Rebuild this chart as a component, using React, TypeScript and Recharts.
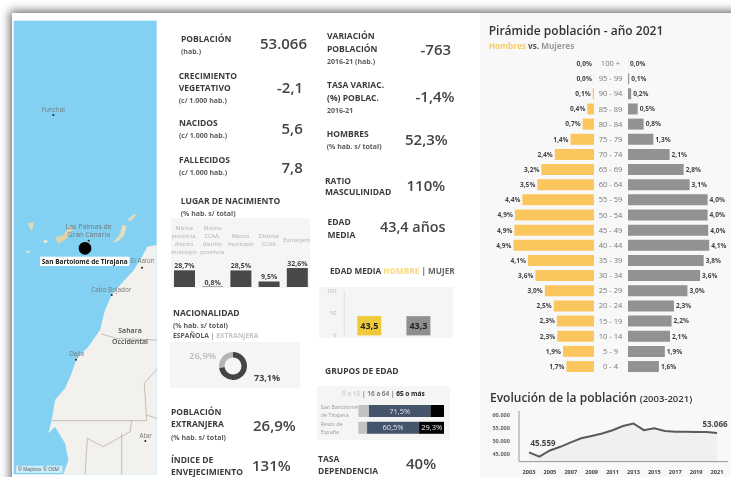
import { Area, AreaChart, Bar, BarChart, Cell, LabelList, Pie, PieChart, XAxis, YAxis } from "recharts"

// pyramid
const ageGroups = ["100 +", "95 - 99", "90 - 94", "85 - 89", "80 - 84", "75 - 79", "70 - 74", "65 - 69", "60 - 64", "55 - 59", "50 - 54", "45 - 49", "40 - 44", "35 - 39", "30 - 34", "25 - 29", "20 - 24", "15 - 19", "10 - 14", "5 - 9", "0 - 4"]
const menShare = [0.004, 0.01, 0.08, 0.41, 0.7, 1.44, 2.41, 3.23, 3.48, 4.4, 4.86, 4.89, 4.94, 4.06, 3.6, 3.02, 2.47, 2.28, 2.26, 1.9, 1.69]
const womenShare = [0.004, 0.06, 0.16, 0.49, 0.79, 1.28, 2.1, 2.81, 3.11, 4.02, 4.02, 4.05, 4.1, 3.82, 3.64, 3.0, 2.32, 2.2, 2.12, 1.86, 1.56]

// evolution
const years = ["2003", "2004", "2005", "2006", "2007", "2008", "2009", "2010", "2011", "2012", "2013", "2014", "2015", "2016", "2017", "2018", "2019", "2020", "2021"]
const population = [45559, 43900, 46300, 47700, 49400, 51000, 51900, 52800, 54100, 55700, 56700, 54100, 54800, 53829, 53500, 53500, 53400, 53400, 53066]
const populationTicks = [45000, 50000, 55000, 60000]

// birthplace
const birthPlaces = ["Misma|provincia,|distrito|municipio", "Misma|CCAA,|distrito|provincia", "Mismo|municipio", "Distinta|CCAA", "Extranjero"]
const birthShare = [28.7, 0.8, 28.5, 9.5, 32.6]

// nationality
const nationalityNames = ["Española", "Extranjera"]
const nationalityShare = [73.1, 26.9]

// mean age
const sexes = ["Hombre", "Mujer"]
const meanAge = [43.5, 43.3]

// age groups
const regions = ["San Bartolomé|de Tirajana", "Resto de|España"]
const young = [12.4, 10.2]
const adults = [71.5, 60.5]
const seniors = [16.1, 29.3]

const FONT = '"Open Sans", sans-serif'
const DARK = "#3b3b3b"
const MID = "#5c5c5c"
const es = (v: number) => v.toFixed(1).replace(".", ",")

const pyramid = ageGroups.map((age, i) => ({ age, men: menShare[i], women: womenShare[i] }))
const evolution = years.map((year, i) => ({ year, value: population[i] }))
const birth = birthPlaces.map((name, i) => ({ name, value: birthShare[i] }))
const nationality = nationalityNames.map((name, i) => ({ name, value: nationalityShare[i] }))
const ages = sexes.map((name, i) => ({ name, value: meanAge[i] }))
const groups = regions.map((name, i) => ({ name, young: young[i], adults: adults[i], seniors: seniors[i] }))

function T({ x, y, size = 8.5, weight = 700, color = DARK, children }: any) {
  return (
    <div style={{ position: "absolute", left: x, top: y, transform: "translateY(-50%)", fontSize: size, fontWeight: weight, color, whiteSpace: "nowrap", lineHeight: 1 }}>
      {children}
    </div>
  )
}

const Big = ({ x, y, size = 15, children }: any) => <T x={x} y={y} size={size} weight={600} color="#444">{children}</T>
const Sub = ({ x, y, children }: any) => <T x={x} y={y} size={7} color={MID}>{children}</T>

function Box({ x, y, w, h, bg = "#f5f5f5" }: any) {
  return <div style={{ position: "absolute", left: x, top: y, width: w, height: h, background: bg }} />
}

function At({ x, y, children }: any) {
  return <div style={{ position: "absolute", left: x, top: y }}>{children}</div>
}

function BirthTick({ x, y, payload }: any) {
  const lines = String(payload.value).split("|")
  const top = y - 14 - ((lines.length - 1) * 7.7) / 2
  return (
    <text textAnchor="middle" fontSize={5.6} fill="#b0b0b0">
      {lines.map((l: string, i: number) => <tspan key={i} x={x} y={top + i * 7.7 + 2}>{l}</tspan>)}
    </text>
  )
}

function RegionTick({ x, y, payload }: any) {
  const lines = String(payload.value).split("|")
  return (
    <text textAnchor="start" fontSize={5.4} fill="#999">
      {lines.map((l: string, i: number) => <tspan key={i} x={x - 29.5} y={y - 2 + i * 8}>{l}</tspan>)}
    </text>
  )
}

function AgeTick({ x, y, payload }: any) {
  return (
    <text x={x + 8.5} y={y + 2.5} textAnchor="middle" fontSize={7.6} fill="#777">
      {payload.value}
    </text>
  )
}

function EndLabel({ x, y, index, value }: any) {
  if (index !== 0 && index !== years.length - 1) return null
  return (
    <text x={index === 0 ? x + 14 : x - 2} y={y - 6} textAnchor="middle" fontSize={8} fontWeight={700} fill="#444">
      {value.toLocaleString("de-DE")}
    </text>
  )
}

function MapPanel() {
  const label = { fontSize: 19, fill: "#777", textAnchor: "middle" as const }
  return (
    <svg width={170} height={477} viewBox="0 0 510 1431" style={{ position: "absolute", left: 0, top: 0 }} fontFamily={FONT}>
      <rect x={41} y={62} width={429} height={1361} fill="#82d1f2" />
      <path d="M470 735 L442 740 L425 772 L400 812 L365 850 L335 885 L315 930 L300 990 L265 1040 L230 1075 L215 1120 L195 1165 L165 1200 L155 1260 L145 1300 L165 1280 L195 1330 L205 1380 L190 1423 L470 1423 Z" fill="#f3f1ed" />
      <path d="M155 1262 L440 1262 L433 1150 L470 1108 M395 1262 L390 1295 L310 1340 L262 1315 L255 1423 M365 1300 L365 1423 M440 1245 L470 1255 M305 1002 L350 1015 L470 1020" fill="none" stroke="#a7a49d" strokeWidth={2} />
      <path d="M84 670 L100 666 L100 684 L93 692 Z" fill="#ded9bd" />
      <path d="M165 712 L188 706 L213 676 L218 688 L203 713 L175 732 Z" fill="#ded3ab" />
      <path d="M130 722 L141 719 L143 727 L133 730 Z" fill="#ece9d4" />
      <path d="M76 757 L89 749 L87 759 Z" fill="#ece9d4" />
      <path d="M338 728 L358 705 L368 674 L380 677 L372 708 L350 726 Z" fill="#e4dcbf" />
      <path d="M382 660 L403 641 L408 646 L393 663 Z" fill="#e4dcbf" />
      <circle cx={160} cy={345} r={3} fill="#222" />
      <text x={160} y={337} {...label}>Funchal</text>
      <text x={266} y={687} {...label} fontSize={21}>Las Palmas de</text>
      <text x={266} y={712} {...label} fontSize={21}>Gran Canaria</text>
      <circle cx={266} cy={722} r={3} fill="#222" />
      <circle cx={255} cy={745} r={19} fill="#000" />
      <rect x={120} y={770} width={268} height={28} fill="#fff" />
      <text x={254} y={791} fontSize={19.5} fontWeight={700} fill="#222" textAnchor="middle">San Bartolomé de Tirajana</text>
      <text x={428} y={790} {...label}>El Aaiún</text>
      <circle cx={426} cy={803} r={3} fill="#222" />
      <text x={334} y={875} {...label}>Cabo Bojador</text>
      <circle cx={335} cy={885} r={3} fill="#222" />
      <text x={390} y={1000} fontSize={21} fontWeight={600} fill="#4a4a4a" textAnchor="middle">Sahara</text>
      <text x={390} y={1031} fontSize={21} fontWeight={600} fill="#4a4a4a" textAnchor="middle">Occidental</text>
      <text x={230} y={1067} {...label}>Dajla</text>
      <circle cx={228} cy={1079} r={3} fill="#222" />
      <text x={437} y={1314} {...label}>Atar</text>
      <circle cx={436} cy={1323} r={3} fill="#222" />
      <rect x={48} y={1397} width={140} height={22} fill="#fff" fillOpacity={0.6} />
      <text x={54} y={1412} fontSize={14.5} fill="#555">© Mapbox © OSM</text>
    </svg>
  )
}

export default function App() {
  return (
    <div style={{ position: "fixed", left: 0, top: 0, width: 731, height: 477, overflow: "hidden", background: "#fff", fontFamily: FONT, filter: "blur(0.3px)" }}>
      <div style={{ position: "absolute", left: 12, top: 13, width: 760, height: 500, background: "#fff", boxShadow: "0 0 9px 2px #666" }} />
      <Box x={480} y={13} w={251} h={464} bg="#f8f8f8" />
      <MapPanel />

      {/* indicators, first column */}
      <T x={181} y={38.5}>POBLACIÓN</T>
      <Sub x={181} y={50.5}>(hab.)</Sub>
      <Big x={260} y={43}>53.066</Big>
      <T x={178.7} y={75.5}>CRECIMIENTO</T>
      <T x={178.7} y={87.7}>VEGETATIVO</T>
      <Sub x={178.7} y={99.7}>(c/ 1.000 hab.)</Sub>
      <Big x={277} y={86.5}>-2,1</Big>
      <T x={179} y={123}>NACIDOS</T>
      <Sub x={179} y={135}>(c/ 1.000 hab.)</Sub>
      <Big x={281.5} y={128}>5,6</Big>
      <T x={179} y={160.3}>FALLECIDOS</T>
      <Sub x={179} y={172}>(c/ 1.000 hab.)</Sub>
      <Big x={281.5} y={167}>7,8</Big>

      {/* indicators, second column */}
      <T x={327} y={36}>VARIACIÓN</T>
      <T x={327} y={48.7}>POBLACIÓN</T>
      <Sub x={327} y={60.7}>2016-21 (hab.)</Sub>
      <Big x={420.5} y={48.5}>-763</Big>
      <T x={327} y={85}>TASA VARIAC.</T>
      <T x={327} y={98.3}>(%) POBLAC.</T>
      <Sub x={327} y={109.5}>2016-21</Sub>
      <Big x={415.5} y={96}>-1,4%</Big>
      <T x={326.7} y={134.3}>HOMBRES</T>
      <Sub x={326.7} y={146.3}>(% hab. s/ total)</Sub>
      <Big x={405} y={139}>52,3%</Big>
      <T x={325} y={180.7}>RATIO</T>
      <T x={325} y={192.3}>MASCULINIDAD</T>
      <Big x={406.5} y={184.5}>110%</Big>
      <T x={327.5} y={222}>EDAD</T>
      <T x={327.5} y={235}>MEDIA</T>
      <Big x={380} y={227} size={14.4}>43,4 años</Big>

      {/* birthplace */}
      <T x={180.7} y={200.7}>LUGAR DE NACIMIENTO</T>
      <Sub x={180.7} y={212.7}>(% hab. s/ total)</Sub>
      <Box x={171} y={218} w={139} h={70} />
      <At x={169.5} y={218}>
        <BarChart width={141} height={70} data={birth} margin={{ top: 0, right: 0, bottom: 1, left: 0 }} barSize={21}>
          <XAxis dataKey="name" orientation="top" height={44} axisLine={false} tickLine={false} interval={0} tick={<BirthTick />} />
          <YAxis hide domain={[0, 43]} />
          <Bar dataKey="value" fill="#484848" isAnimationActive={false}>
            <LabelList dataKey="value" position="top" offset={2} formatter={(v: any) => es(v) + "%"} fontSize={7} fontWeight={700} fill="#444" />
          </Bar>
        </BarChart>
      </At>

      {/* nationality */}
      <T x={173} y={312.7}>NACIONALIDAD</T>
      <Sub x={173} y={324.7}>(% hab. s/ total)</Sub>
      <T x={173} y={335.7} size={6.8} color={MID}>ESPAÑOLA <span style={{ color: "#999" }}>|</span> <span style={{ color: "#c4c4c4" }}>EXTRANJERA</span></T>
      <Box x={170} y={342} w={130} h={46} />
      <At x={212} y={345}>
        <PieChart width={42} height={42} margin={{ top: 0, right: 0, bottom: 0, left: 0 }}>
          <Pie data={nationality} dataKey="value" cx={21} cy={21} innerRadius={8.5} outerRadius={14} startAngle={90} endAngle={-270} stroke="none" isAnimationActive={false}>
            <Cell fill="#444" />
            <Cell fill="#b5b5b5" />
          </Pie>
        </PieChart>
      </At>
      <T x={189} y={355.7} size={9.5} weight={600} color="#bbb">{es(nationalityShare[1])}%</T>
      <T x={254} y={377} size={9} weight={700} color="#444">{es(nationalityShare[0])}%</T>

      {/* foreign population, ageing */}
      <T x={171} y={412}>POBLACIÓN</T>
      <T x={171} y={424}>EXTRANJERA</T>
      <Sub x={171} y={437}>(% hab. s/ total)</Sub>
      <Big x={253} y={425}>26,9%</Big>
      <T x={171} y={460}>ÍNDICE DE</T>
      <T x={171} y={472}>ENVEJECIMIENTO</T>
      <Big x={252} y={465}>131%</Big>

      {/* mean age */}
      <T x={330} y={271} size={8.2}>EDAD MEDIA <span style={{ color: "#f5d987" }}>HOMBRE</span> <span style={{ color: "#666" }}>| MUJER</span></T>
      <Box x={319} y={286.5} w={134} h={51} />
      <At x={319} y={284.6}>
        <BarChart width={123.5} height={56.4} data={ages} margin={{ top: 6, right: 0, bottom: 6, left: 0 }} barSize={24}>
          <XAxis dataKey="name" hide />
          <YAxis domain={[0, 100]} ticks={[0, 50, 100]} interval={0} width={25.3} tickLine={false} axisLine={{ stroke: "#ddd" }} tick={{ fontSize: 5.5, fill: "#b5b5b5" }} />
          <Bar dataKey="value" isAnimationActive={false}>
            <Cell fill="#f0c93a" />
            <Cell fill="#8f8f8f" />
            <LabelList dataKey="value" position="center" formatter={(v: any) => es(v)} fontSize={9} fontWeight={700} fill="#222" />
          </Bar>
        </BarChart>
      </At>

      {/* age groups */}
      <T x={325} y={371}>GRUPOS DE EDAD</T>
      <Box x={316.7} y={385.7} w={133.3} h={54.3} />
      <T x={342} y={394} size={6.5} weight={600} color="#666"><span style={{ color: "#ccc" }}>0 a 15</span> | 16 a 64 | <span style={{ color: "#222", fontWeight: 700 }}>65 o más</span></T>
      <At x={318} y={403.3}>
        <BarChart width={126.3} height={33.6} layout="vertical" data={groups} margin={{ top: 0, right: 0, bottom: 0, left: 0 }} barSize={12}>
          <XAxis type="number" hide domain={[0, 100]} />
          <YAxis type="category" dataKey="name" width={40.3} axisLine={false} tickLine={false} interval={0} tick={<RegionTick />} />
          <Bar dataKey="young" stackId="a" fill="#c2c2c2" isAnimationActive={false} />
          <Bar dataKey="adults" stackId="a" fill="#44546a" isAnimationActive={false}>
            <LabelList dataKey="adults" position="center" formatter={(v: any) => es(v) + "%"} fontSize={7.5} fill="#dfe3e8" />
          </Bar>
          <Bar dataKey="seniors" stackId="a" fill="#000" isAnimationActive={false}>
            <LabelList dataKey="seniors" position="center" formatter={(v: any) => (v > 20 ? es(v) + "%" : "")} fontSize={7.5} fill="#eee" />
          </Bar>
        </BarChart>
      </At>

      <T x={318} y={459}>TASA</T>
      <T x={318} y={471}>DEPENDENCIA</T>
      <Big x={406} y={463}>40%</Big>

      {/* pyramid */}
      <T x={488.7} y={31} size={12} weight={600} color="#333">Pirámide población - año 2021</T>
      <T x={488.7} y={45.7} size={8.2} color="#555"><span style={{ color: "#f7cb6a" }}>Hombres</span> vs. <span style={{ color: "#999" }}>Mujeres</span></T>
      <At x={480} y={56.4}>
        <BarChart width={147.7} height={318.2} layout="vertical" data={pyramid} margin={{ top: 0, right: 0, bottom: 0, left: 0 }} barSize={11}>
          <XAxis type="number" hide reversed domain={[0, 7]} />
          <YAxis type="category" dataKey="age" orientation="right" width={33.7} axisLine={false} tickLine={false} interval={0} tick={<AgeTick />} />
          <Bar dataKey="men" fill="#fcc65f" isAnimationActive={false}>
            <LabelList dataKey="men" position="right" offset={2} formatter={(v: any) => es(v) + "%"} fontSize={6.6} fontWeight={700} fill="#444" />
          </Bar>
        </BarChart>
      </At>
      <At x={627.7} y={56.4}>
        <BarChart width={103} height={318.2} layout="vertical" data={pyramid} margin={{ top: 0, right: 0, bottom: 0, left: 0 }} barSize={11}>
          <XAxis type="number" hide domain={[0, 5.2]} />
          <YAxis type="category" dataKey="age" hide />
          <Bar dataKey="women" fill="#929292" isAnimationActive={false}>
            <LabelList dataKey="women" position="right" offset={2} formatter={(v: any) => es(v) + "%"} fontSize={6.6} fontWeight={700} fill="#444" />
          </Bar>
        </BarChart>
      </At>

      {/* evolution */}
      <T x={490} y={398.3} size={12} weight={600} color="#333">Evolución de la población <span style={{ fontSize: 9.5 }}>(2003-2021)</span></T>
      <At x={480} y={410.7}>
        <AreaChart width={248} height={66} data={evolution} margin={{ top: 0, right: 0, bottom: 0, left: 0 }}>
          <XAxis dataKey="year" scale="point" padding={{ left: 10, right: 11 }} height={15.4} interval={1} tickLine={false} axisLine={{ stroke: "#999" }} tick={{ fontSize: 5.6, fontWeight: 700, fill: "#444" }} tickMargin={2} />
          <YAxis domain={[42000, 61500]} ticks={populationTicks} width={39} tickLine={false} axisLine={{ stroke: "#999" }} tick={{ fontSize: 5.6, fontWeight: 700, fill: "#666" }} tickMargin={3} tickFormatter={(v: number) => v.toLocaleString("de-DE")} />
          <Area type="linear" dataKey="value" stroke="#5a5a5a" strokeWidth={2} fill="#f0f0f0" fillOpacity={1} isAnimationActive={false} dot={false}>
            <LabelList dataKey="value" content={<EndLabel />} />
          </Area>
        </AreaChart>
      </At>
    </div>
  )
}
